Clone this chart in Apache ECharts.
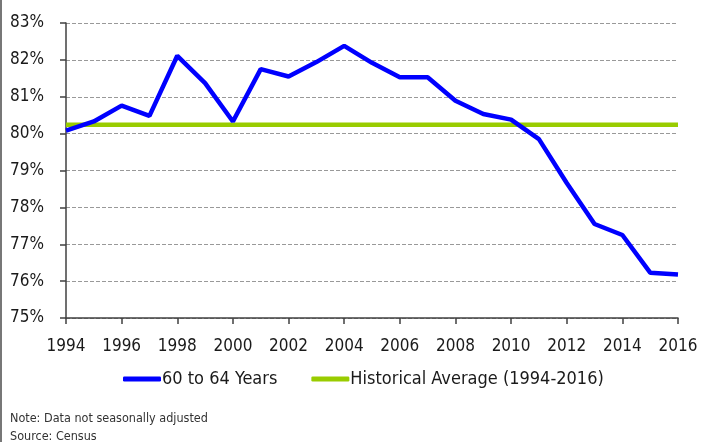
<!DOCTYPE html>
<html>
<head>
<meta charset="utf-8">
<script src="https://cdn.jsdelivr.net/npm/echarts@6/dist/echarts.min.js"></script>
<style>
html,body{margin:0;padding:0;background:#fff;}
#chart{width:701px;height:442px;}
</style>
</head>
<body>
<div id="chart"></div>
<script>
var years = [1994,1995,1996,1997,1998,1999,2000,2001,2002,2003,2004,2005,2006,2007,2008,2009,2010,2011,2012,2013,2014,2015,2016];
var rate60to64 = [80.08,80.33,80.76,80.48,82.11,81.37,80.33,81.75,81.55,81.94,82.38,81.92,81.53,81.53,80.89,80.53,80.38,79.85,78.66,77.55,77.25,76.23,76.18];
var historicalAvg = [80.24,80.24,80.24,80.24,80.24,80.24,80.24,80.24,80.24,80.24,80.24,80.24,80.24,80.24,80.24,80.24,80.24,80.24,80.24,80.24,80.24,80.24,80.24];
var seriesNames = ['60 to 64 Years','Historical Average (1994-2016)'];
var noteText = 'Note: Data not seasonally adjusted';
var sourceText = 'Source: Census';

var FONT = '"DejaVu Sans Condensed", "Liberation Sans Narrow", sans-serif';
function pairs(v){ return years.map(function(y,i){ return [y, v[i]]; }); }

var chart = echarts.init(document.getElementById('chart'), null, {renderer:'canvas'});
chart.setOption({
  animation:false,
  backgroundColor:'#ffffff',
  grid:{left:66, right:23, top:23, bottom:124, containLabel:false},
  xAxis:{
    type:'value', min:1994, max:2016, interval:2,
    axisLine:{show:true, lineStyle:{color:'#404040', width:1.5}},
    axisTick:{show:true, length:6, lineStyle:{color:'#404040', width:1.5}},
    axisLabel:{color:'#1a1a1a', fontFamily:FONT, fontSize:17, margin:20, formatter:function(v){return String(v);}},
    splitLine:{show:false}
  },
  yAxis:{
    type:'value', min:75, max:83, interval:1,
    axisLine:{show:true, lineStyle:{color:'#404040', width:1.5}},
    axisTick:{show:true, length:6, lineStyle:{color:'#404040', width:1.5}},
    axisLabel:{color:'#1a1a1a', fontFamily:FONT, fontSize:17, margin:22, formatter:'{value}%'},
    splitLine:{show:true, lineStyle:{color:'#999999', type:[4,2], width:1}}
  },
  legend:{
    data:seriesNames, top:365, left:118,
    icon:'roundRect', itemWidth:38, itemHeight:5, itemGap:34,
    textStyle:{fontFamily:FONT, fontSize:18, color:'#1a1a1a', padding:[0,0,0,-4]}
  },
  graphic:[
    {type:'line', shape:{x1:1,y1:0,x2:1,y2:442}, style:{stroke:'#777777', lineWidth:2}},
    {type:'text', left:10, top:412, style:{text:noteText, font:'12.5px '+FONT, fill:'#333333'}},
    {type:'text', left:10, top:430, style:{text:sourceText, font:'12.5px '+FONT, fill:'#333333'}}
  ],
  series:[
    {name:seriesNames[1], type:'line', data:pairs(historicalAvg), symbol:'none',
     lineStyle:{color:'#99cc00', width:4.5}, itemStyle:{color:'#99cc00'}, z:2},
    {name:seriesNames[0], type:'line', data:pairs(rate60to64), symbol:'none',
     lineStyle:{color:'#0000ff', width:4.5}, itemStyle:{color:'#0000ff'}, z:3}
  ]
});
</script>
</body>
</html>
